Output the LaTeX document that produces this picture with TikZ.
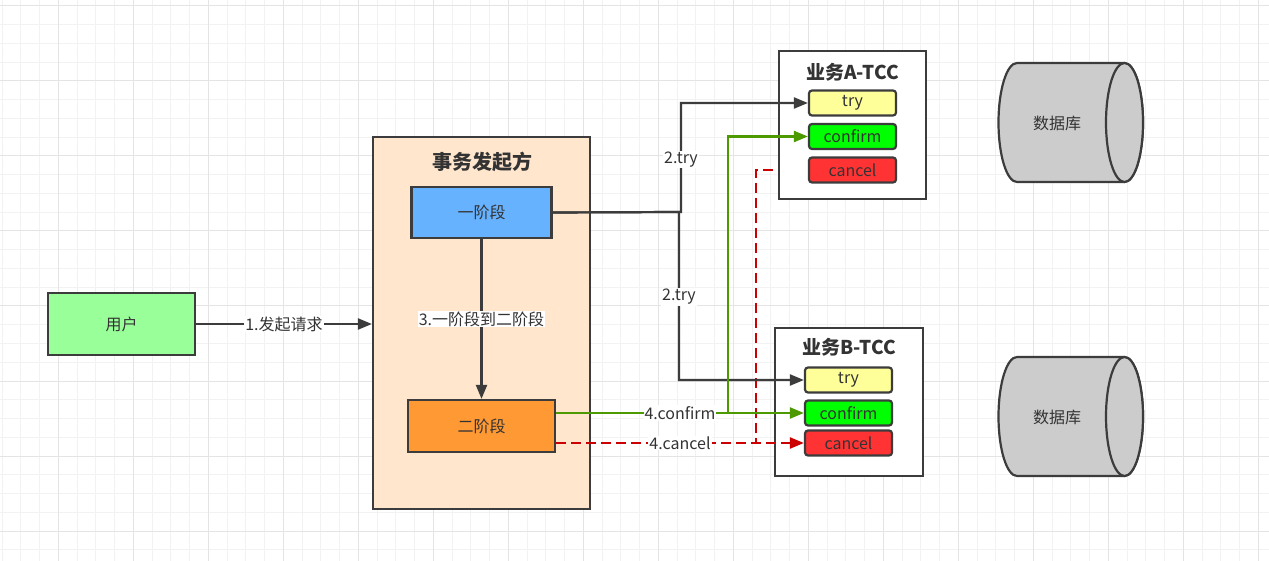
\documentclass[tikz,border=0pt]{standalone}
\usepackage{fontspec}
\setmainfont{Noto Sans CJK SC}
\usetikzlibrary{arrows.meta,calc}
\definecolor{ink}{HTML}{333333}
\definecolor{edge}{HTML}{3C3C3C}
\definecolor{gridmin}{HTML}{F2F2F2}
\definecolor{gridmaj}{HTML}{E4E4E4}
\definecolor{userg}{HTML}{99FF99}
\definecolor{contc}{HTML}{FFE6CC}
\definecolor{bluec}{HTML}{66B2FF}
\definecolor{orangec}{HTML}{FF9933}
\definecolor{yellowc}{HTML}{FFFF99}
\definecolor{greenc}{HTML}{00FF00}
\definecolor{redc}{HTML}{FF3333}
\definecolor{cylc}{HTML}{CCCCCC}
\definecolor{gline}{HTML}{4D9900}
\definecolor{rline}{HTML}{CC0000}
\pgfdeclarelayer{gridlayer}
\pgfdeclarelayer{backlayer}
\pgfsetlayers{gridlayer,backlayer,main}
\tikzset{
  txt/.style={text=ink,font=\fontsize{16}{19}\selectfont},
  box/.style={draw=edge,line width=2.2pt,inner sep=0pt,txt},
  cell/.style={box,rounded corners=3pt,minimum width=87pt,minimum height=25pt},
  ttl/.style={text=ink,font=\fontsize{19}{22}\selectfont\bfseries},
  lbl/.style={fill=white,inner sep=1pt,txt},
  conn/.style={draw=edge,line width=2.2pt,-{Triangle[length=14pt,width=11pt]}},
  gconn/.style={draw=gline,line width=2.2pt,-{Triangle[length=14pt,width=11pt]}},
  rconn/.style={draw=rline,line width=2.2pt,dash pattern=on 10pt off 5pt,-{Triangle[length=14pt,width=11pt]}},
  cyl/.style={draw=edge,line width=2.2pt,fill=cylc},
}
\begin{document}
\begin{tikzpicture}[x=1pt,y=-1pt]
\useasboundingbox (0,0) rectangle (1269,561);
\begin{pgfonlayer}{gridlayer}
\fill[white] (0,0) rectangle (1269,561);
\foreach \x in {2.08,20.83,...,1269} \draw[gridmin,line width=1pt] (\x,0) -- (\x,561);
\foreach \y in {6,24.75,...,561} \draw[gridmin,line width=1pt] (0,\y) -- (1269,\y);
\foreach \x in {58.33,133.33,...,1269} \draw[gridmaj,line width=1pt] (\x,0) -- (\x,561);
\foreach \y in {6,81,...,561} \draw[gridmaj,line width=1pt] (0,\y) -- (1269,\y);
\end{pgfonlayer}

% user and initiator
\node[box,fill=userg,minimum width=147pt,minimum height=62pt] (user) at (121.5,324) {用户};
\node[box,fill=contc,minimum width=217pt,minimum height=372pt] (cont) at (481.5,323) {};
\node[ttl,font=\fontsize{20}{23}\selectfont\bfseries] (conttitle) at (482,162) {事务发起方};
\node[box,fill=bluec,minimum width=140pt,minimum height=51pt] (p1) at (481.5,212.5) {一阶段};
\node[box,fill=orangec,minimum width=147pt,minimum height=52pt] (p2) at (481.5,426) {二阶段};

% service A
\node[box,fill=white,minimum width=147pt,minimum height=148pt] (boxA) at (852.5,125) {};
\node[ttl] (titleA) at (852.5,72) {业务A-TCC};
\node[cell,fill=yellowc] (tryA) at (852.5,103) {try};
\node[cell,fill=greenc] (confA) at (852.5,136.5) {confirm};
\node[cell,fill=redc] (cancA) at (852.5,170) {cancel};

% service B
\node[box,fill=white,minimum width=148pt,minimum height=148pt] (boxB) at (849,402) {};
\node[ttl] (titleB) at (849,347) {业务B-TCC};
\node[cell,fill=yellowc] (tryB) at (848.5,380) {try};
\node[cell,fill=greenc] (confB) at (848.5,413) {confirm};
\node[cell,fill=redc] (cancB) at (848.5,443) {cancel};

% databases
\draw[cyl] (1017,63) -- (1124.5,63) arc[start angle=-90,end angle=90,x radius=18.5,y radius=59.5]
  -- (1017,182) arc[start angle=90,end angle=270,x radius=18.5,y radius=59.5] -- cycle;
\draw[cyl] (1124.5,122.5) ellipse[x radius=18.5,y radius=59.5];
\node[txt] (db1) at (1057,123) {数据库};
\draw[cyl] (1017,357) -- (1124.5,357) arc[start angle=-90,end angle=90,x radius=18.5,y radius=59.5]
  -- (1017,476) arc[start angle=90,end angle=270,x radius=18.5,y radius=59.5] -- cycle;
\draw[cyl] (1124.5,416.5) ellipse[x radius=18.5,y radius=59.5];
\node[txt] (db2) at (1057,417) {数据库};

% connectors
\draw[conn] (user.east) -- node[lbl]{1.发起请求} (user.east -| cont.west);
\draw[conn] (p1.south) -- node[lbl]{3.一阶段到二阶段} (p2.north);
\coordinate (bA) at (681,212);
\coordinate (bB) at (679,212);
\draw[conn] (p1.east) -- (bA) |- node[lbl,pos=0.24]{2.try} (tryA.west);
\draw[conn] (p1.east) -- (bB) |- node[lbl,pos=0.253]{2.try} (tryB.west);
\coordinate (gA) at (728,413);
\draw[gconn] (p2.east |- confB.west) -- (gA) |- (confA.west);
\draw[gconn] (p2.east |- confB.west) -- node[lbl]{4.confirm} (confB.west);
\begin{pgfonlayer}{backlayer}
\coordinate (rA) at (756,443);
\draw[rconn] (p2.east |- cancB.west) -- (rA) |- (cancA.west);
\end{pgfonlayer}
\draw[rconn] (p2.east |- cancB.west) -- node[lbl]{4.cancel} (cancB.west);
\end{tikzpicture}
\end{document}
